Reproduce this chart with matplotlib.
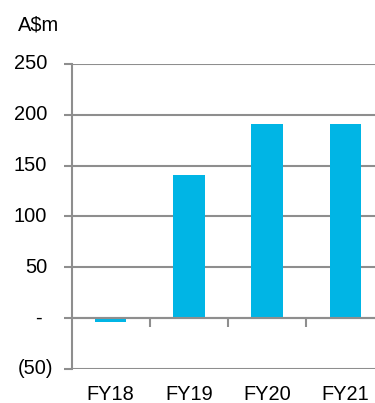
import matplotlib
matplotlib.use("Agg")
import matplotlib.pyplot as plt
import matplotlib.transforms as mtransforms

plt.rcParams['font.family'] = ['Liberation Sans', 'DejaVu Sans']

categories = ['FY18', 'FY19', 'FY20', 'FY21']
values = [-3.5, 141, 190.5, 191]
y_ticks = [-50, 0, 50, 100, 150, 200, 250]
y_labels = ['(50)', '-', '50', '100', '150', '200', '250']

bar_color = '#00B5E5'
grid_color = '#8E8E8E'
fs = 14.4

fig = plt.figure(figsize=(3.75, 4.03), dpi=100)
ax = fig.add_axes([0.191, 0.0844, 0.834, 0.7568])

x = list(range(len(categories)))
ax.bar(x, values, width=0.4, color=bar_color, zorder=3)
ax.set_xlim(-0.5, 3.5)
ax.set_ylim(-50, 250)

# horizontal grid
ax.set_yticks(y_ticks)
ax.yaxis.grid(True, color=grid_color, linewidth=1.5, zorder=1)
ax.tick_params(axis='y', length=6, width=1.5, color=grid_color, labelleft=False)

# y labels, Excel style alignment
trans = mtransforms.blended_transform_factory(fig.transFigure, ax.transData)
for v, lab in zip(y_ticks, y_labels):
    if lab == '-':
        ax.text(38.5 / 375, v, lab, ha='center', va='center', fontsize=fs, transform=trans)
    elif lab.startswith('('):
        ax.text(53.5 / 375, v, lab, ha='right', va='center', fontsize=fs, transform=trans)
    else:
        ax.text(47 / 375, v, lab, ha='right', va='center', fontsize=fs, transform=trans)

# x axis line at zero with boundary ticks
for s in ['top', 'right']:
    ax.spines[s].set_visible(False)
ax.spines['left'].set_color(grid_color)
ax.spines['left'].set_linewidth(1.5)
ax.spines['bottom'].set_position(('data', 0))
ax.spines['bottom'].set_color(grid_color)
ax.spines['bottom'].set_linewidth(1.5)
ax.spines['bottom'].set_zorder(4)
ax.set_xticks([0.5, 1.5, 2.5])
ax.tick_params(axis='x', length=6.5, width=1.5, color=grid_color, labelbottom=False)

# category labels below the plot
ctrans = mtransforms.blended_transform_factory(ax.transData, fig.transFigure)
for xi, c in zip(x, categories):
    ax.text(xi, (403 - 394.5) / 403, c, ha='center', va='center', fontsize=fs, transform=ctrans)

fig.text(18 / 375, (403 - 25) / 403, 'A$m', ha='left', va='center', fontsize=fs)

fig.savefig('out.png', dpi=100)
